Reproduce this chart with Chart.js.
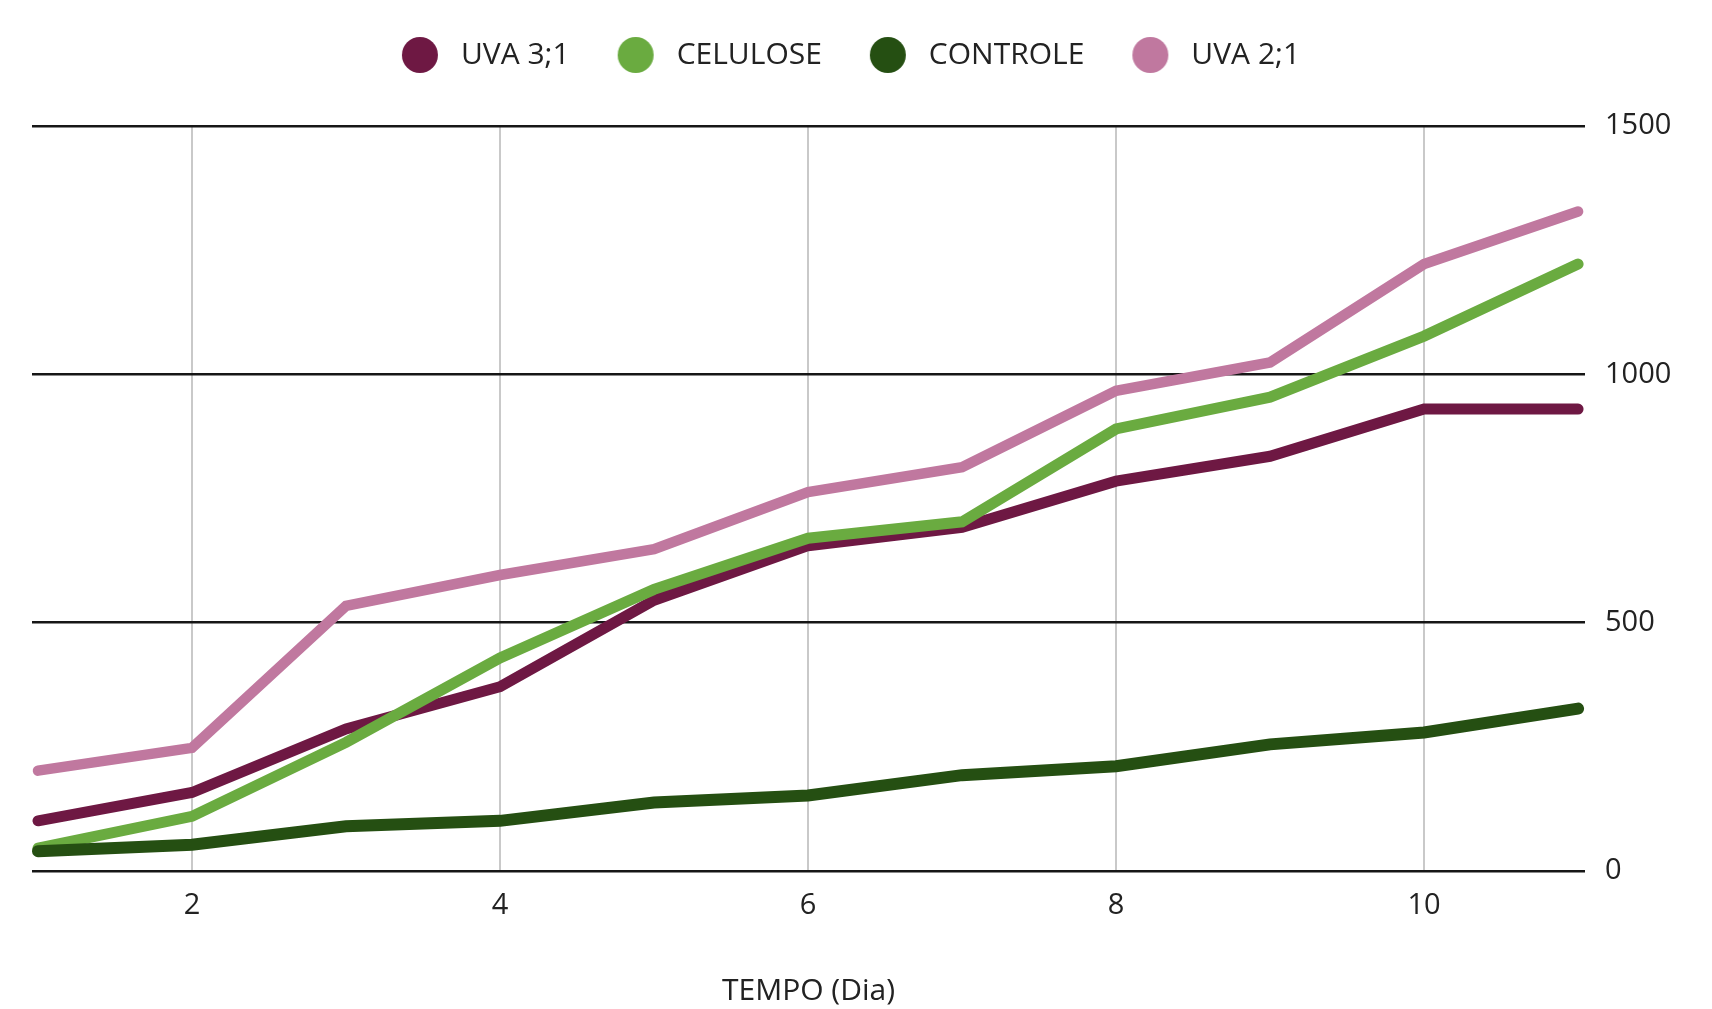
<!DOCTYPE html>
<html>
<head>
<meta charset="utf-8">
<script src="https://cdn.jsdelivr.net/npm/chart.js@4.4.1/dist/chart.umd.min.js"></script>
<style>
  html, body { margin: 0; padding: 0; background: #ffffff; }
  #wrap { width: 1712px; height: 1009px; }
  canvas { display: block; }
</style>
</head>
<body>
<div id="wrap"><canvas id="c" width="1712" height="1009"></canvas></div>
<script>
// ---- data ----
const days = [1, 2, 3, 4, 5, 6, 7, 8, 9, 10, 11];
const uva31    = [101, 158, 286, 371, 545, 655, 692, 785, 835, 930, 930];
const celulose = [46, 110, 259, 429, 567, 670, 703, 890, 954, 1077, 1222];
const controle = [40, 53, 90, 101, 138, 152, 193, 211, 255, 279, 327];
const uva21    = [202, 248, 534, 596, 648, 763, 813, 967, 1024, 1222, 1328];
const seriesNames = ['UVA 3;1', 'CELULOSE', 'CONTROLE', 'UVA 2;1'];
const xTickValues = [2, 4, 6, 8, 10];
const yTickValues = [0, 500, 1000, 1500];
const xTitle = 'TEMPO (Dia)';

// ---- styles ----
const colors = ['#6e1843', '#6aab40', '#254f12', '#c0789f'];
const widths = [11, 11, 12, 10.5];
const drawOrder = [4, 3, 2, 1]; // lower = on top
const FONT = "'Open Sans', 'DejaVu Sans', sans-serif";

function makeDot(color) {
  const cv = document.createElement('canvas');
  cv.width = 40; cv.height = 40;
  const g = cv.getContext('2d');
  g.fillStyle = color;
  g.beginPath();
  g.arc(20, 20, 18, 0, Math.PI * 2);
  g.fill();
  return cv;
}
const dots = colors.map(makeDot);

const seriesValues = [uva31, celulose, controle, uva21];
const datasets = seriesValues.map((vals, i) => ({
  label: seriesNames[i],
  data: days.map((d, j) => ({ x: d, y: vals[j] })),
  borderColor: colors[i],
  backgroundColor: colors[i],
  borderWidth: widths[i],
  borderCapStyle: 'round',
  borderJoinStyle: 'miter',
  pointRadius: 0,
  pointHoverRadius: 0,
  tension: 0,
  fill: false,
  order: drawOrder[i],
  yAxisID: 'y'
}));

const legendSpace = {
  id: 'legendSpace',
  beforeInit(chart) {
    if (!chart.legend) return;
    const origFit = chart.legend.fit;
    chart.legend.fit = function () {
      origFit.call(this);
      this.height = 126;
    };
  },
  afterLayout(chart) {
    if (!chart.legend) return;
    chart.legend.left -= 9;
    chart.legend.right -= 9;
  }
};

new Chart(document.getElementById('c'), {
  type: 'line',
  data: { datasets },
  plugins: [legendSpace],
  options: {
    responsive: false,
    animation: false,
    layout: { padding: 0 },
    plugins: {
      tooltip: { enabled: false },
      legend: {
        display: true,
        position: 'top',
        align: 'center',
        labels: {
          usePointStyle: true,
          pointStyleWidth: 52,
          boxWidth: 52,
          boxHeight: 29,
          padding: 40,
          color: '#222222',
          font: { family: FONT, size: 30 },
          sort: (a, b) => a.datasetIndex - b.datasetIndex,
          generateLabels: (chart) => chart.data.datasets.map((ds, i) => ({
            text: ds.label,
            fillStyle: ds.borderColor,
            strokeStyle: ds.borderColor,
            lineWidth: 0,
            pointStyle: dots[i],
            hidden: false,
            datasetIndex: i,
            fontColor: '#222222'
          }))
        }
      }
    },
    scales: {
      x: {
        type: 'linear',
        min: 0.961,
        max: 11.045,
        afterBuildTicks: (scale) => { scale.ticks = xTickValues.map(v => ({ value: v })); },
        afterFit: (scale) => { scale.height = 138; },
        grid: { display: true, color: '#c9c9c9', lineWidth: 2, drawTicks: false },
        border: { display: false },
        ticks: {
          padding: 17,
          color: '#222222',
          font: { family: FONT, size: 29 },
          callback: (v) => String(v)
        },
        title: {
          display: true,
          text: xTitle,
          color: '#222222',
          font: { family: FONT, size: 30 },
          padding: { top: 0, bottom: 0 }
        }
      },
      y: {
        type: 'linear',
        position: 'right',
        min: 0,
        max: 1500,
        afterBuildTicks: (scale) => { scale.ticks = yTickValues.map(v => ({ value: v })); },
        afterFit: (scale) => { scale.width = 127; },
        grid: { display: true, color: '#161616', lineWidth: 2.5, drawTicks: false },
        border: { display: false },
        ticks: {
          padding: 20,
          color: '#222222',
          font: { family: FONT, size: 29 },
          callback: (v) => String(v)
        }
      },
      leftSpace: {
        type: 'linear',
        position: 'left',
        display: true,
        min: 0,
        max: 1500,
        afterFit: (scale) => { scale.width = 32; },
        grid: { display: false, drawTicks: false },
        border: { display: false },
        ticks: { display: false }
      }
    }
  }
});
</script>
</body>
</html>
